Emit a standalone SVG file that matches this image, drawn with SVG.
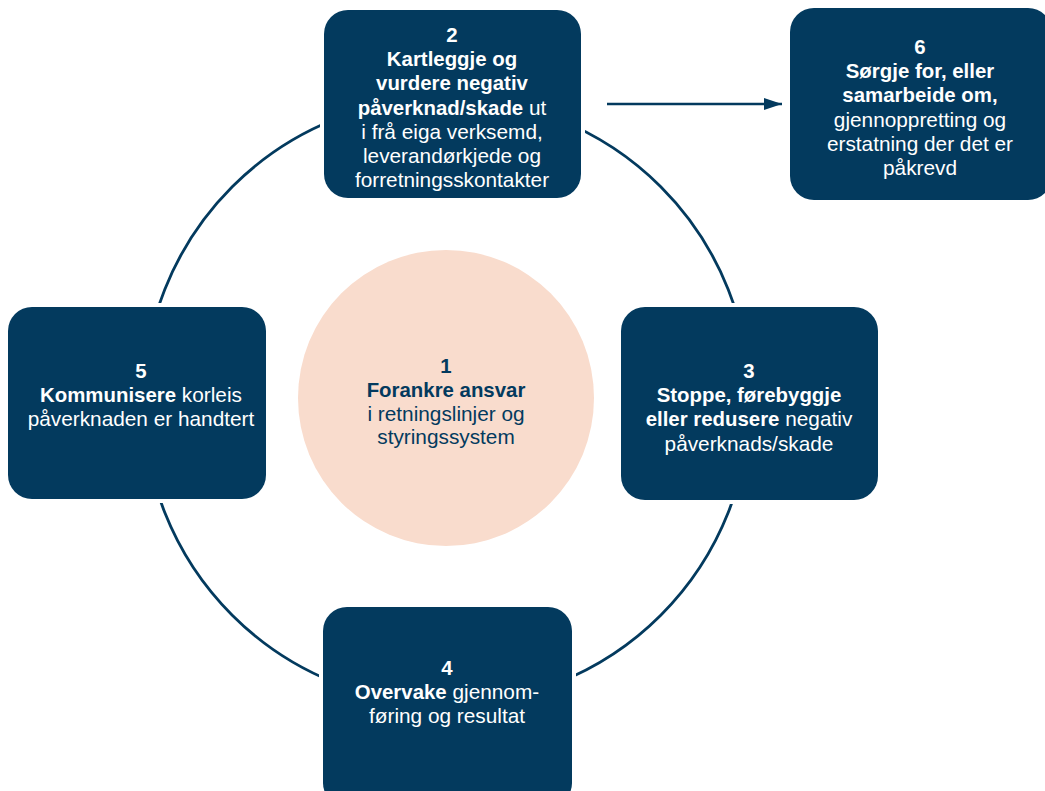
<svg xmlns="http://www.w3.org/2000/svg" width="1045" height="791" viewBox="0 0 1045 791">
<style>
.box{fill:#033a5e;stroke:#ffffff;stroke-width:8;paint-order:stroke}
.t{font-family:"Liberation Sans",Arial,sans-serif;font-size:20.8px;fill:#ffffff;text-anchor:middle}
.dk{fill:#033a5e}
.b{font-weight:700;font-size:20.4px}
.ring{fill:none;stroke:#033a5e;stroke-width:2.8}
</style>
<defs>
<marker id="ah" viewBox="0 0 18 12" refX="18" refY="6" markerWidth="18" markerHeight="12" markerUnits="userSpaceOnUse" orient="auto">
<path d="M0,0 L18,6 L0,12 Z" fill="#033a5e"/>
</marker>
</defs>
<rect width="1045" height="791" fill="#ffffff"/>
<g id="connectors">
<circle class="ring" cx="446.5" cy="401" r="303"/>
<line x1="607" y1="104" x2="782" y2="104" stroke="#033a5e" stroke-width="2.6" marker-end="url(#ah)"/>
</g>
<g id="node1">
<circle cx="446" cy="398" r="148" fill="#f9dccd"/>
<text class="t dk" x="446"><tspan class="b" x="446" y="373">1</tspan><tspan class="b" x="446" y="397">Forankre ansvar</tspan><tspan x="446" y="420.5">i retningslinjer og</tspan><tspan x="446" y="444">styringssystem</tspan></text>
</g>
<g id="node2">
<rect class="box" x="324" y="10" width="257" height="188" rx="24"/>
<text class="t"><tspan class="b" x="452" y="42">2</tspan><tspan class="b" x="452" y="66.2">Kartleggje og</tspan><tspan class="b" x="452" y="90.4">vurdere negativ</tspan><tspan x="452" y="114.6"><tspan class="b">påverknad/skade</tspan> ut</tspan><tspan x="452" y="138.8">i frå eiga verksemd,</tspan><tspan x="452" y="163">leverandørkjede og</tspan><tspan x="452" y="187.2">forretningsskontakter</tspan></text>
</g>
<g id="node6">
<rect class="box" x="790" y="8" width="262" height="192" rx="24"/>
<text class="t"><tspan class="b" x="920" y="54">6</tspan><tspan class="b" x="920" y="78.2">Sørgje for, eller</tspan><tspan class="b" x="920" y="102.4">samarbeide om,</tspan><tspan x="920" y="126.6">gjennoppretting og</tspan><tspan x="920" y="150.8">erstatning der det er</tspan><tspan x="920" y="175">påkrevd</tspan></text>
</g>
<g id="node3">
<rect class="box" x="621" y="307" width="257" height="193" rx="24"/>
<text class="t"><tspan class="b" x="749" y="378">3</tspan><tspan class="b" x="749" y="402.2">Stoppe, førebyggje</tspan><tspan x="749" y="426.4"><tspan class="b">eller redusere</tspan> negativ</tspan><tspan x="749" y="450.6">påverknads/skade</tspan></text>
</g>
<g id="node5">
<rect class="box" x="8" y="307" width="258" height="192" rx="24"/>
<text class="t"><tspan class="b" x="141" y="378">5</tspan><tspan x="141" y="402.2"><tspan class="b">Kommunisere</tspan> korleis</tspan><tspan x="141" y="426.4">påverknaden er handtert</tspan></text>
</g>
<g id="node4">
<rect class="box" x="323" y="607" width="249" height="200" rx="24"/>
<text class="t"><tspan class="b" x="447" y="675">4</tspan><tspan x="447" y="699.2"><tspan class="b">Overvake</tspan> gjennom-</tspan><tspan x="447" y="723.4">føring og resultat</tspan></text>
</g>
</svg>
